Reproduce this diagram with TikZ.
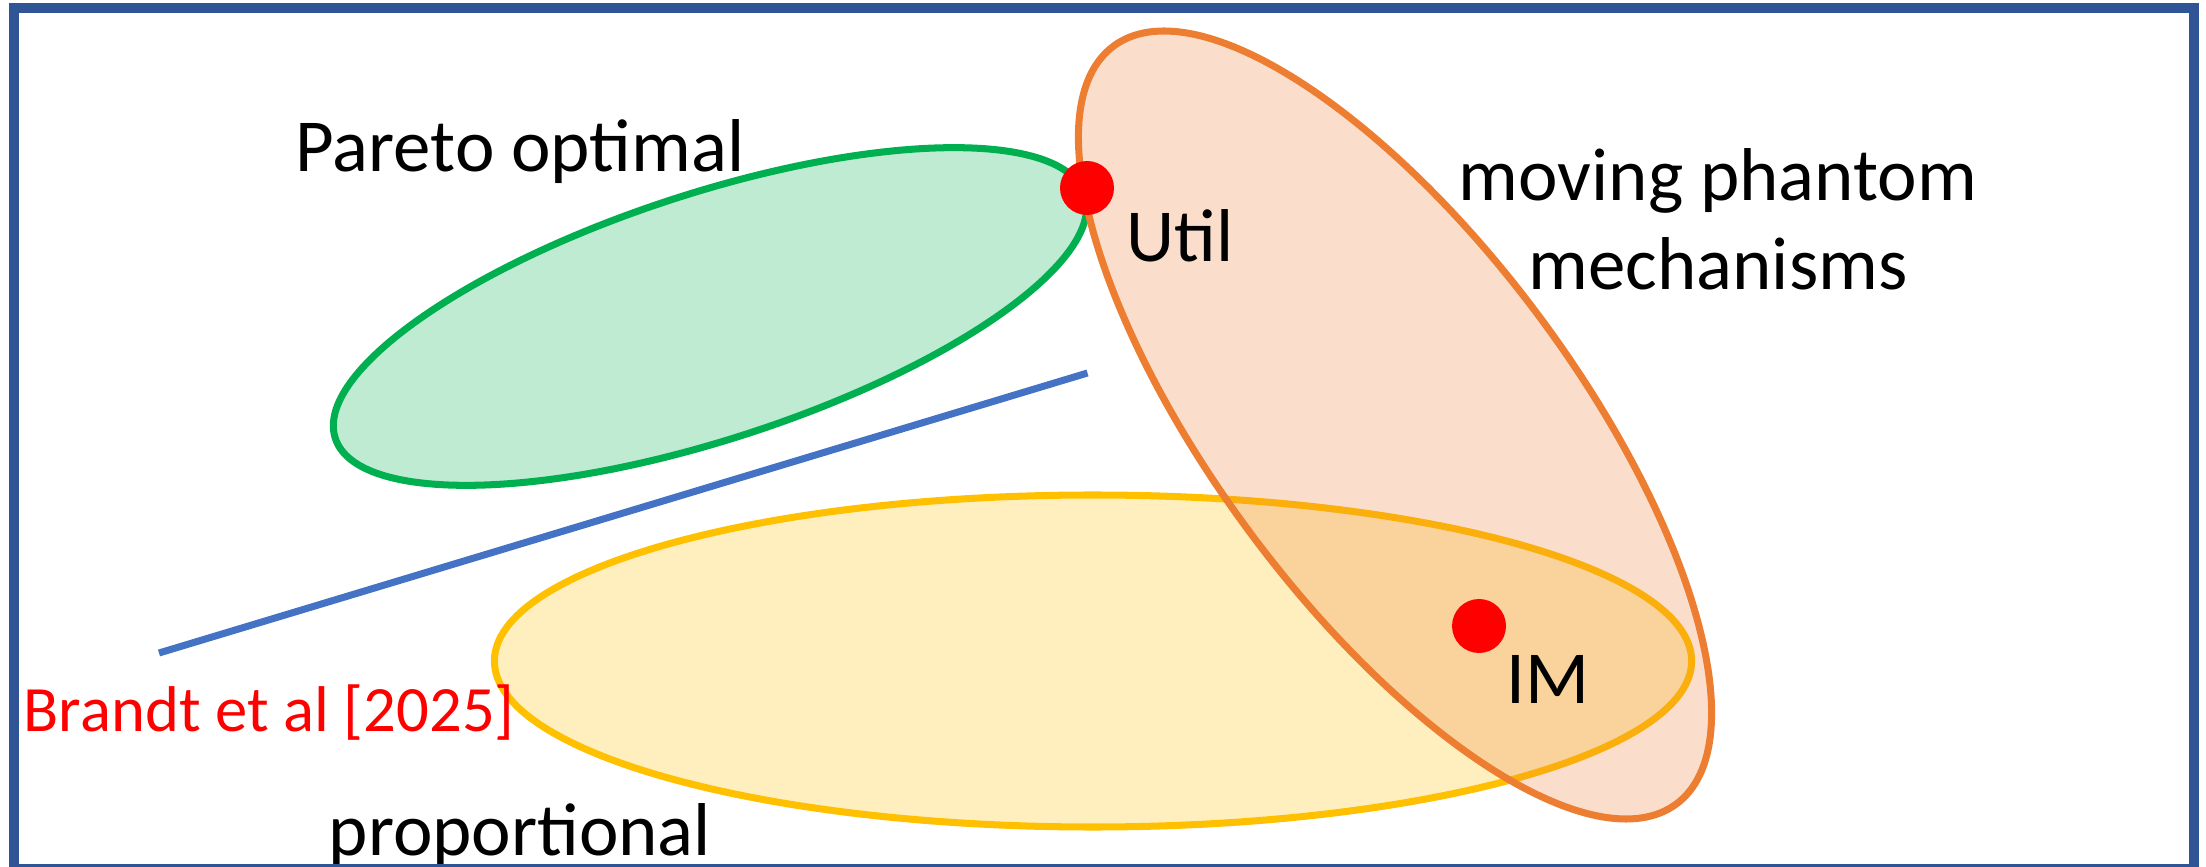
\documentclass[tikz,border=0pt]{standalone}
\usepackage{fontspec}
\setmainfont{Carlito}
\usepackage{tikz}
\usetikzlibrary{positioning}
\usepackage{xcolor}
\definecolor{frameblue}{HTML}{2F5597}
\definecolor{setgreen}{HTML}{00B050}
\definecolor{setorange}{HTML}{ED7D31}
\definecolor{setyellow}{HTML}{FFC000}
\definecolor{lineblue}{HTML}{4472C4}
\definecolor{dotred}{HTML}{FF0000}

\begin{document}
\begin{tikzpicture}[
		set/.style={line width=2pt, fill opacity=0.25},
		lbl/.style={inner sep=0pt, font=\fontsize{21.3}{25.6}\selectfont},
		dot/.style={circle, fill=dotred, inner sep=0pt, minimum size=0.54cm}
	]
	\useasboundingbox (0,0) rectangle (22.06,8.66);
	% the three sets
	\draw [set, setgreen, fill=setgreen, shift={(7.10,5.495)}, rotate=18] (0,0) ellipse (3.94 and 1.23);
	\draw [set, setyellow, fill=setyellow] (10.93,2.05) ellipse (5.986 and 1.66);
	\draw [set, setorange, fill=setorange, shift={(13.95,4.41)}, rotate=-53.4] (0,0) ellipse (4.72 and 1.805);
	% mechanisms
	\coordinate (brandtstart) at (1.59,2.13);
	\coordinate (brandtend) at (10.875,4.93);
	\draw [line width=2pt, lineblue] (brandtstart) -- (brandtend);
	\node[dot] (util) at (10.87,6.78) {};
	\node[dot] (im) at (14.79,2.40) {};
	% labels
	\node[lbl, anchor=base] (pareto) at (5.20,6.94) {Pareto optimal};
	\node[lbl, anchor=base west] (utillbl) at (11.26,6.04) {Util};
	\node[lbl, anchor=base, align=center] (phantom) at (17.18,5.76) {moving phantom\\mechanisms};
	\node[lbl, anchor=base west] (imlbl) at (15.06,1.63) {IM};
	\node[lbl, anchor=base] (prop) at (5.20,0.11) {proportional};
	\node[inner sep=0pt, anchor=base west, text=dotred, font=\fontsize{18.4}{22}\selectfont] (brandt) at (0.23,1.35) {Brandt et al [2025]};
	% frame
	\draw [frameblue, line width=2.6pt] (0.14,8.58) rectangle (21.94,-0.03);
\end{tikzpicture}
\end{document}
